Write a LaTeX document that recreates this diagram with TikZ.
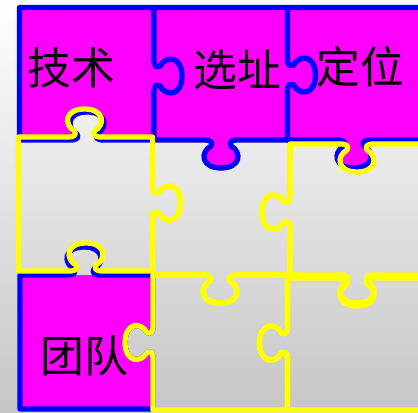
\documentclass[tikz,border=0pt]{standalone}
\usepackage{fontspec}
\newfontfamily\cjk{Noto Sans CJK SC}
\usetikzlibrary{shadings}
\definecolor{pmag}{RGB}{255,0,255}
\definecolor{pblue}{RGB}{0,0,255}
\definecolor{pyellow}{RGB}{255,255,0}
\tikzset{
  kn/.style n args={3}{shift={(#1)},rotate=#2,yscale=#3},
  knob/.style n args={3}{insert path={
    -- ([kn={#1}{#2}{#3}]-17,0)
    .. controls ([kn={#1}{#2}{#3}]-10,0) and ([kn={#1}{#2}{#3}]-8,-2) .. ([kn={#1}{#2}{#3}]-10,-6)
    .. controls ([kn={#1}{#2}{#3}]-21,-12) and ([kn={#1}{#2}{#3}]-20,-28) .. ([kn={#1}{#2}{#3}]0,-28)
    .. controls ([kn={#1}{#2}{#3}]20,-28) and ([kn={#1}{#2}{#3}]21,-12) .. ([kn={#1}{#2}{#3}]10,-6)
    .. controls ([kn={#1}{#2}{#3}]8,-2) and ([kn={#1}{#2}{#3}]10,0) .. ([kn={#1}{#2}{#3}]17,0)}},
  knobout/.style 2 args={knob={#1}{#2}{1}},
  knobin/.style 2 args={knob={#1}{#2}{-1}},
}
\begin{document}
\begin{tikzpicture}[x=0.02cm,y=-0.02cm,line width=3pt,line join=round,
  bluepiece/.style={draw=pblue,fill=pmag},
  yellowpiece/.style={draw=pyellow},
  word/.style={font=\cjk\fontsize{25pt}{25pt}\selectfont,inner sep=0pt}]
\useasboundingbox (0,0) rectangle (418,412);
\shade[top color=white,bottom color=gray!45] (0,0) rectangle (418,412);
\clip (0,0) rectangle (418,412);
\draw[yellowpiece] (152.5,140) [knobin={221,140}{0}] -- (290,140) [knobin={290,212}{-90}]
  -- (290,275) [knobout={220,275}{180}] -- (152.5,275) [knobin={152.5,203}{90}] -- cycle;
\draw[bluepiece] (19.5,7.5) -- (154,7.5) [knobout={154,76}{-90}] -- (154,140)
  [knobin={87,140}{180}] -- (19.5,140) -- cycle;
\draw[bluepiece] (154,7.5) -- (287.5,7.5) [knobout={287.5,75}{-90}] -- (287.5,140)
  [knobout={221,140}{180}] -- (154,140) [knobin={154,76}{90}] -- cycle;
\draw[bluepiece] (287.5,7.5) -- (430,7.5) -- (430,140) [knobout={354,140}{180}]
  -- (287.5,140) [knobin={287.5,75}{90}] -- cycle;
\fill[pmag] (20,275) -- (153,275) [knobin={153,342.5}{-90}] -- (153,409) -- (20,409) -- cycle;
\draw[pblue] (20,275) [knobout={84,275}{0}] -- (153,275) [knobin={153,342.5}{-90}]
  -- (153,409) -- (20,409) -- cycle;
\draw[yellowpiece] (18.5,137) [knobout={84.5,137}{0}] -- (152.5,137) [knobout={152.5,203}{-90}]
  -- (152.5,271) [knobin={86,271}{180}] -- (18.5,271) -- cycle;
\draw[yellowpiece] (290,144) [knobin={357,144}{0}] -- (430,144) -- (430,278)
  [knobout={357,278}{180}] -- (290,278) [knobout={290,212}{90}] -- cycle;
\draw[yellowpiece] (153,275) [knobin={220,275}{0}] -- (287.5,275) [knobin={287.5,343}{-90}]
  -- (287.5,410) -- (153,410) [knobout={153,342.5}{90}] -- cycle;
\draw[yellowpiece] (287.5,275) [knobin={357,275}{0}] -- (430,275) -- (430,410)
  -- (287.5,410) [knobout={287.5,343}{90}] -- cycle;
\node[word] (jishu) at (71,68) {技术};
\node[word] (xuanzhi) at (237,70) {选址};
\node[word] (dingwei) at (360,67) {定位};
\node[word] (tuandui) at (84,356) {团队};
\end{tikzpicture}
\end{document}
